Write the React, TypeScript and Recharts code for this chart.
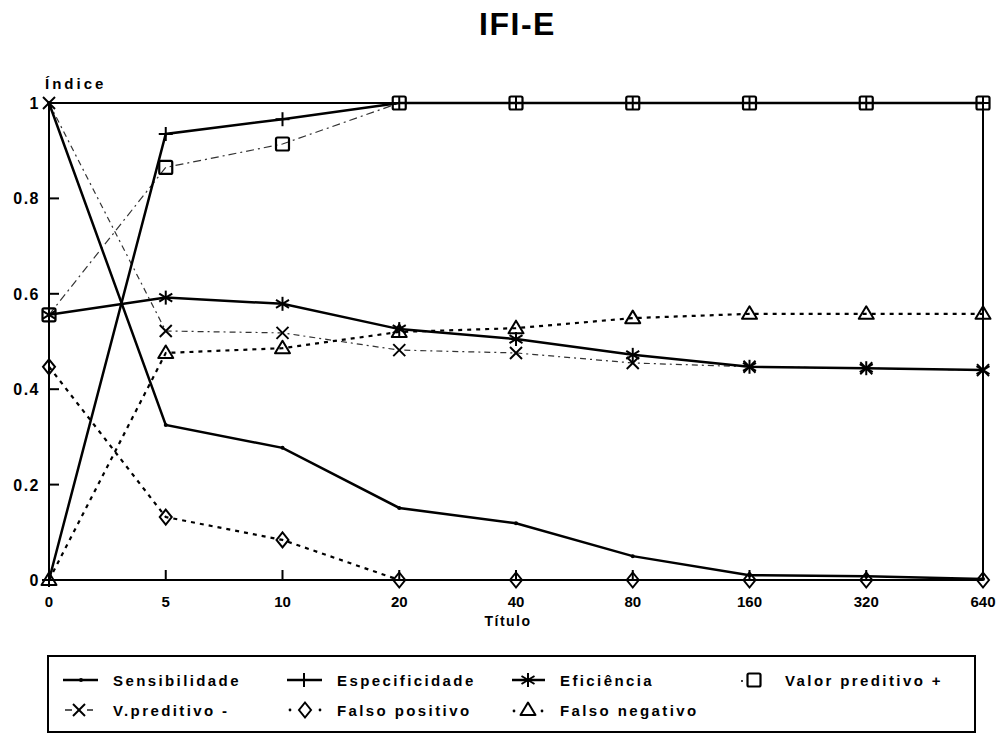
import React from 'react';
import { LineChart, Line, XAxis, YAxis, ReferenceLine, Label } from 'recharts';

// ---------- data ----------
const categories = ['0', '5', '10', '20', '40', '80', '160', '320', '640'];
const sensibilidade = [1.0, 0.325, 0.277, 0.151, 0.119, 0.05, 0.01, 0.008, 0.002];
const especificidade = [0.0, 0.935, 0.966, 1, 1, 1, 1, 1, 1];
const eficiencia = [0.556, 0.592, 0.579, 0.526, 0.505, 0.472, 0.447, 0.444, 0.44];
const valorPreditivoPos = [0.556, 0.865, 0.914, 1, 1, 1, 1, 1, 1];
const valorPreditivoNeg = [1.0, 0.522, 0.518, 0.482, 0.476, 0.455, 0.447, 0.444, 0.44];
const falsoPositivo = [0.447, 0.132, 0.084, 0, 0, 0, 0, 0, 0];
const falsoNegativo = [0, 0.476, 0.486, 0.52, 0.528, 0.549, 0.558, 0.558, 0.558];
const yTicks = [0, 0.2, 0.4, 0.6, 0.8, 1];

const seriesNames = {
  sens: 'Sensibilidade',
  esp: 'Especificidade',
  efic: 'Eficiência',
  vpp: 'Valor preditivo +',
  vpn: 'V.preditivo -',
  fp: 'Falso positivo',
  fn: 'Falso negativo',
};

const data = categories.map((c, i) => ({
  titulo: c,
  sens: sensibilidade[i],
  esp: especificidade[i],
  efic: eficiencia[i],
  vpp: valorPreditivoPos[i],
  vpn: valorPreditivoNeg[i],
  fp: falsoPositivo[i],
  fn: falsoNegativo[i],
}));

// ---------- styles ----------
const FONT = '"Liberation Sans", Arial, sans-serif';
const INK = '#000';
const Y_TICK_MARGIN = 10;
const X_TICK_MARGIN = 10;

// ---------- marker shapes ----------
const SmallDot = ({ cx, cy }: { cx: number; cy: number }) => (
  <circle cx={cx} cy={cy} r={2} fill={INK} />
);
const PlusMark = ({ cx, cy }: { cx: number; cy: number }) => (
  <g stroke={INK} strokeWidth={2} fill="none">
    <line x1={cx - 7} x2={cx + 7} y1={cy} y2={cy} />
    <line x1={cx} x2={cx} y1={cy - 7} y2={cy + 7} />
  </g>
);
const AsteriskMark = ({ cx, cy }: { cx: number; cy: number }) => (
  <g stroke={INK} strokeWidth={2} fill="none">
    <line x1={cx} x2={cx} y1={cy - 7} y2={cy + 7} />
    <line x1={cx - 6.5} x2={cx + 6.5} y1={cy - 4} y2={cy + 4} />
    <line x1={cx - 6.5} x2={cx + 6.5} y1={cy + 4} y2={cy - 4} />
  </g>
);
const SquareMark = ({ cx, cy }: { cx: number; cy: number }) => (
  <rect x={cx - 6.5} y={cy - 6.5} width={13} height={13} rx={1.5} stroke={INK} strokeWidth={2.2} fill="none" />
);
const XMark = ({ cx, cy }: { cx: number; cy: number }) => (
  <g stroke={INK} strokeWidth={2} fill="none">
    <line x1={cx - 6} x2={cx + 6} y1={cy - 6} y2={cy + 6} />
    <line x1={cx - 6} x2={cx + 6} y1={cy + 6} y2={cy - 6} />
  </g>
);
const DiamondMark = ({ cx, cy }: { cx: number; cy: number }) => (
  <polygon
    points={`${cx},${cy - 7.5} ${cx + 6},${cy} ${cx},${cy + 7.5} ${cx - 6},${cy}`}
    stroke={INK}
    strokeWidth={2}
    fill="none"
  />
);
const TriangleMark = ({ cx, cy }: { cx: number; cy: number }) => (
  <polygon
    points={`${cx},${cy - 7.5} ${cx + 7.5},${cy + 5} ${cx - 7.5},${cy + 5}`}
    stroke={INK}
    strokeWidth={2}
    strokeLinejoin="round"
    fill="none"
  />
);

const dotFn = (Comp: any, name: string) => (props: any) => {
  if (props.cx == null || props.cy == null) return <g key={`${name}-${props.index}`} />;
  return (
    <g key={`${name}-${props.index}`}>
      <Comp cx={props.cx} cy={props.cy} />
    </g>
  );
};

// ---------- ticks ----------
const YTick = (props: any) => {
  const { x, y, payload } = props;
  const axisX = x + Y_TICK_MARGIN;
  return (
    <g>
      <line x1={axisX} x2={axisX + 10} y1={y} y2={y} stroke={INK} strokeWidth={2} />
      <text
        x={x + 1}
        y={y + 6}
        textAnchor="end"
        fontFamily={FONT}
        fontWeight="bold"
        fontSize={16}
        letterSpacing={1.5}
        fill={INK}
      >
        {String(payload.value)}
      </text>
    </g>
  );
};

const XTick = (props: any) => {
  const { x, y, payload } = props;
  const axisY = y - X_TICK_MARGIN;
  return (
    <g>
      <line x1={x} x2={x} y1={axisY} y2={axisY - 10} stroke={INK} strokeWidth={2} />
      <text
        x={x}
        y={axisY + 27}
        textAnchor="middle"
        fontFamily={FONT}
        fontWeight="bold"
        fontSize={15}
        fill={INK}
      >
        {payload.value}
      </text>
    </g>
  );
};

const XTitle = (props: any) => {
  const vb = props.viewBox || { x: 0, y: 0, width: 0, height: 0 };
  return (
    <text
      x={vb.x + vb.width / 2 - 8}
      y={vb.y + 46}
      textAnchor="middle"
      fontFamily={FONT}
      fontWeight="bold"
      fontSize={14}
      letterSpacing={1.5}
      fill={INK}
    >
      Título
    </text>
  );
};

// ---------- legend (overlay) ----------
const legendText = (x: number, y: number, s: string) => (
  <text x={x} y={y + 5.5} fontFamily={FONT} fontWeight="bold" fontSize={15} letterSpacing={2.4} fill={INK}>
    {s}
  </text>
);

const LegendBox = () => {
  const r1 = 680;
  const r2 = 710;
  return (
    <svg width={998} height={733} style={{ position: 'absolute', left: 0, top: 0, pointerEvents: 'none' }}>
      <rect x={48} y={656} width={927} height={76} fill="none" stroke={INK} strokeWidth={2} />
      {/* row 1 */}
      <line x1={63} x2={98} y1={r1} y2={r1} stroke={INK} strokeWidth={2.5} />
      <SmallDot cx={81} cy={r1} />
      {legendText(113, r1, seriesNames.sens)}

      <line x1={287} x2={322} y1={r1} y2={r1} stroke={INK} strokeWidth={2.5} />
      <PlusMark cx={304} cy={r1} />
      {legendText(337, r1, seriesNames.esp)}

      <line x1={512} x2={545} y1={r1} y2={r1} stroke={INK} strokeWidth={2.5} />
      <AsteriskMark cx={528} cy={r1} />
      {legendText(560, r1, seriesNames.efic)}

      <circle cx={742} cy={r1 + 1} r={1} fill={INK} />
      <SquareMark cx={754} cy={r1} />
      {legendText(785, r1, seriesNames.vpp)}

      {/* row 2 */}
      <line x1={65} x2={72} y1={r2} y2={r2} stroke={INK} strokeWidth={1.3} />
      <line x1={87} x2={93} y1={r2} y2={r2} stroke={INK} strokeWidth={1.3} />
      <XMark cx={79} cy={r2} />
      {legendText(113, r2, seriesNames.vpn)}

      <circle cx={290} cy={r2} r={1.4} fill={INK} />
      <circle cx={320} cy={r2} r={1.4} fill={INK} />
      <DiamondMark cx={305} cy={r2} />
      {legendText(337, r2, seriesNames.fp)}

      <circle cx={514} cy={r2 + 1} r={1.4} fill={INK} />
      <circle cx={542} cy={r2 + 1} r={1.4} fill={INK} />
      <TriangleMark cx={528} cy={r2} />
      {legendText(560, r2, seriesNames.fn)}
    </svg>
  );
};

export default function App() {
  return (
    <div style={{ position: 'fixed', left: 0, top: 0, width: 998, height: 733, background: '#fff', overflow: 'hidden' }}>
      <div
        style={{
          position: 'absolute',
          left: 0,
          width: 1035,
          top: 8,
          textAlign: 'center',
          fontFamily: FONT,
          fontWeight: 'bold',
          fontSize: 32,
          letterSpacing: 1.5,
          lineHeight: '32px',
          color: INK,
        }}
      >
        IFI-E
      </div>
      <div
        style={{
          position: 'absolute',
          left: 45,
          top: 75,
          fontFamily: FONT,
          fontWeight: 'bold',
          fontSize: 15,
          letterSpacing: 3,
          lineHeight: '17px',
          color: INK,
        }}
      >
        Índice
      </div>
      <div style={{ position: 'absolute', left: 0, top: 0 }}>
        <LineChart width={998} height={733} data={data} margin={{ top: 103, right: 15, bottom: 113, left: 0 }}>
          <XAxis
            dataKey="titulo"
            height={40}
            axisLine={{ stroke: INK, strokeWidth: 2 }}
            tickLine={false}
            tickSize={0}
            tickMargin={X_TICK_MARGIN}
            tick={<XTick />}
            interval={0}
          >
            <Label content={<XTitle />} />
          </XAxis>
          <YAxis
            width={49}
            domain={[0, 1]}
            ticks={yTicks}
            axisLine={{ stroke: INK, strokeWidth: 2 }}
            tickLine={false}
            tickSize={0}
            tickMargin={Y_TICK_MARGIN}
            tick={<YTick />}
            interval={0}
          />
          <ReferenceLine y={1} stroke={INK} strokeWidth={2} />
          <ReferenceLine x="640" stroke={INK} strokeWidth={2} />

          <Line dataKey="vpp" name={seriesNames.vpp} stroke="#333" strokeWidth={1.2} strokeDasharray="8 4 2 4" dot={dotFn(SquareMark, 'vpp')} activeDot={false} isAnimationActive={false} />
          <Line dataKey="vpn" name={seriesNames.vpn} stroke="#333" strokeWidth={1.2} strokeDasharray="6 4 2 4" dot={dotFn(XMark, 'vpn')} activeDot={false} isAnimationActive={false} />
          <Line dataKey="fp" name={seriesNames.fp} stroke={INK} strokeWidth={2.2} strokeDasharray="4 5" dot={dotFn(DiamondMark, 'fp')} activeDot={false} isAnimationActive={false} />
          <Line dataKey="fn" name={seriesNames.fn} stroke={INK} strokeWidth={2.2} strokeDasharray="4 5" dot={dotFn(TriangleMark, 'fn')} activeDot={false} isAnimationActive={false} />
          <Line dataKey="sens" name={seriesNames.sens} stroke={INK} strokeWidth={2.5} dot={dotFn(SmallDot, 'sens')} activeDot={false} isAnimationActive={false} />
          <Line dataKey="esp" name={seriesNames.esp} stroke={INK} strokeWidth={2.5} dot={dotFn(PlusMark, 'esp')} activeDot={false} isAnimationActive={false} />
          <Line dataKey="efic" name={seriesNames.efic} stroke={INK} strokeWidth={2.5} dot={dotFn(AsteriskMark, 'efic')} activeDot={false} isAnimationActive={false} />
        </LineChart>
      </div>
      <LegendBox />
    </div>
  );
}
